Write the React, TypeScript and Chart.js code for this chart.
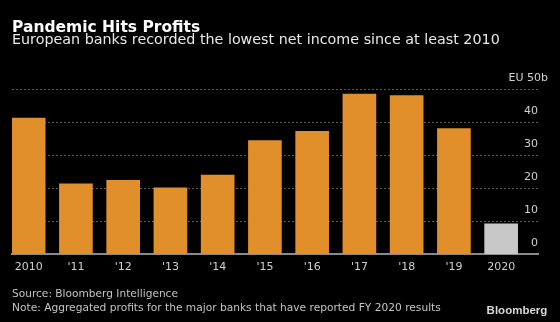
import React, { useEffect, useRef } from 'react';
import { Chart, registerables } from 'chart.js';

Chart.register(...registerables);

const categories = ['2010', "'11", "'12", "'13", "'14", "'15", "'16", "'17", "'18", "'19", '2020'];
const netIncome = [41.2, 21.3, 22.4, 20.1, 24.0, 34.4, 37.2, 48.5, 48.0, 38.0, 9.2];
const yTickValues = [0, 10, 20, 30, 40, 50];
const topTickLabel = 'EU 50b';

const ORANGE = '#E08F2A';
const GRAY = '#C8C8C8';
const TICK_COLOR = '#cfcfcf';
const FONT = '"DejaVu Sans", sans-serif';

export default function App() {
  const ref = useRef<HTMLCanvasElement>(null);

  useEffect(() => {
    document.body.style.margin = '0';
    document.body.style.background = '#000';
    const unitLabel = {
      id: 'unitLabel',
      afterDraw(chart: any) {
        const y = chart.scales.y;
        const ctx = chart.ctx;
        ctx.save();
        ctx.font = '11px ' + FONT;
        ctx.fillStyle = TICK_COLOR;
        ctx.textAlign = 'right';
        ctx.textBaseline = 'middle';
        ctx.fillText(topTickLabel, chart.chartArea.right + 10, y.getPixelForValue(50) - 11);
        ctx.restore();
      },
    };
    const chart = new Chart(ref.current as HTMLCanvasElement, {
      type: 'bar',
      data: {
        datasets: [
          {
            data: categories.map((c, i) => ({ x: i, y: netIncome[i] })),
            backgroundColor: categories.map((_, i) => (i === categories.length - 1 ? GRAY : ORANGE)),
            barThickness: 33,
            borderWidth: 0,
          },
        ],
      },
      options: {
        animation: false,
        responsive: false,
        layout: { padding: { left: 12, right: 22, top: 89, bottom: 42.5 } },
        plugins: { legend: { display: false }, tooltip: { enabled: false } },
        scales: {
          x: {
            type: 'linear',
            offset: false,
            min: -0.353,
            max: 10.78,
            z: 1,
            grid: { display: false, drawTicks: false, offset: false },
            border: { display: true, color: '#8a8a8a', width: 2 },
            afterBuildTicks: (axis: any) => {
              axis.ticks = categories.map((_, i) => ({ value: i }));
            },
            ticks: {
              callback: (v: any) => categories[v as number],
              color: TICK_COLOR,
              font: { family: FONT, size: 11 },
              padding: 6,
              autoSkip: false,
              maxRotation: 0,
            },
          },
          y: {
            position: 'right',
            min: 0,
            max: 50,
            afterBuildTicks: (axis: any) => {
              axis.ticks = yTickValues.map((v) => ({ value: v }));
            },
            grid: {
              color: (ctx: any) => (ctx.tick && ctx.tick.value === 0 ? 'rgba(0,0,0,0)' : '#5a5a5a'),
              drawTicks: false,
              lineWidth: 1,
            },
            border: { display: false, dash: [2, 2] },
            ticks: {
              mirror: true,
              labelOffset: -11,
              padding: 0,
              color: TICK_COLOR,
              font: { family: FONT, size: 11 },
              callback: (v: any) => (v === 50 ? '' : String(v)),
            },
          },
        },
      } as any,
      plugins: [unitLabel],
    });
    return () => chart.destroy();
  }, []);

  const abs = (top: number, extra: React.CSSProperties): React.CSSProperties => ({
    position: 'absolute',
    top,
    whiteSpace: 'nowrap',
    ...extra,
  });

  return (
    <div style={{ position: 'relative', width: 560, height: 322, background: '#000', overflow: 'hidden' }}>
      <canvas ref={ref} width={560} height={322} style={{ display: 'block', position: 'absolute', left: 0, top: 0 }} />
      <div style={abs(17.9, { left: 12, fontFamily: FONT, fontWeight: 'bold', fontSize: 15.5, lineHeight: '18px', color: '#ffffff' })}>
        Pandemic Hits Profits
      </div>
      <div style={abs(31.0, { left: 12, fontFamily: FONT, fontSize: 14.3, lineHeight: '16px', color: '#e8e8e8' })}>
        European banks recorded the lowest net income since at least 2010
      </div>
      <div style={abs(287.2, { left: 12, fontFamily: FONT, fontSize: 10.6, lineHeight: '13px', color: '#c4c4c4' })}>
        Source: Bloomberg Intelligence
      </div>
      <div style={abs(300.6, { left: 12, fontFamily: FONT, fontSize: 10.65, lineHeight: '13px', color: '#c4c4c4' })}>
        Note: Aggregated profits for the major banks that have reported FY 2020 results
      </div>
      <div style={abs(303.8, { right: 12.7, fontFamily: '"Liberation Sans", sans-serif', fontWeight: 'bold', fontSize: 11.5, lineHeight: '13px', color: '#d8d8d8' })}>
        Bloomberg
      </div>
    </div>
  );
}
